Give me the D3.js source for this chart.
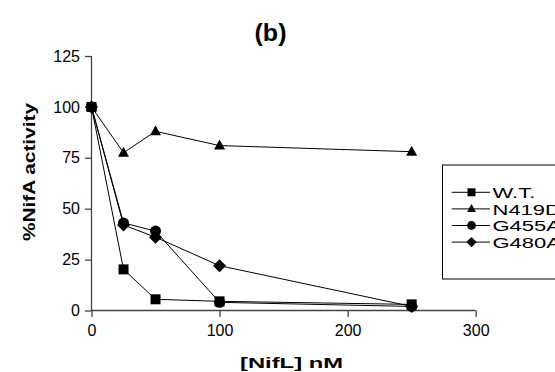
<!DOCTYPE html>
<html>
<head>
<meta charset="utf-8">
<script src="https://cdn.jsdelivr.net/npm/d3@7"></script>
<style>
  body { margin: 0; background: #fff; }
  svg { display: block; font-family: Arial, "Liberation Sans", sans-serif; }
</style>
</head>
<body>
<svg id="chart" width="555" height="372"></svg>
<script>
// --- Data ---
const seriesNames = ['W.T.', 'N419D', 'G455A', 'G480A'];
const symbols = ['square', 'triangle', 'circle', 'diamond'];
const wtX = [0, 25, 50, 100, 250];
const wtY = [100, 20.2, 5.5, 4.5, 3];
const n419dX = [0, 25, 50, 100, 250];
const n419dY = [100, 77.5, 88, 81, 78];
const g455aX = [0, 25, 50, 100, 250];
const g455aY = [100, 43, 39, 4, 2];
const g480aX = [0, 25, 50, 100, 250];
const g480aY = [100, 42, 36, 22, 2];
const xTicks = [0, 100, 200, 300];
const yTicks = [0, 25, 50, 75, 100, 125];

const series = [
    { name: seriesNames[0], sym: symbols[0], xs: wtX, ys: wtY },
    { name: seriesNames[1], sym: symbols[1], xs: n419dX, ys: n419dY },
    { name: seriesNames[2], sym: symbols[2], xs: g455aX, ys: g455aY },
    { name: seriesNames[3], sym: symbols[3], xs: g480aX, ys: g480aY },
];

const svg = d3.select('#chart');
const margin = { top: 56, left: 91.5, right: 475.7, bottom: 310.5 };

const x = d3.scaleLinear().domain([0, 300]).range([margin.left, margin.right]);
const y = d3.scaleLinear().domain([0, 125]).range([margin.bottom, margin.top]);

// marker drawing (k scales the size, legend uses smaller ones)
function drawMarker(g, sym, cx, cy, k = 1) {
    if (sym === 'square') {
        const h = 5 * k;
        g.append('rect').attr('x', cx - h).attr('y', cy - h).attr('width', 2 * h).attr('height', 2 * h).attr('fill', '#000');
    } else if (sym === 'triangle') {
        g.append('path').attr('d', `M${cx},${cy - 6 * k}L${cx + 5.5 * k},${cy + 4 * k}L${cx - 5.5 * k},${cy + 4 * k}Z`).attr('fill', '#000');
    } else if (sym === 'circle') {
        g.append('circle').attr('cx', cx).attr('cy', cy).attr('r', 5.5 * k).attr('fill', '#000');
    } else {
        const h = 6.5 * k;
        g.append('path').attr('d', `M${cx},${cy - h}L${cx + h},${cy}L${cx},${cy + h}L${cx - h},${cy}Z`).attr('fill', '#000');
    }
}

// --- Axes ---
const xAxis = svg.append('g')
    .attr('transform', `translate(0,${margin.bottom})`)
    .call(d3.axisBottom(x).tickValues(xTicks).tickSize(6.5).tickPadding(8).tickFormat(d3.format('d')));
const yAxis = svg.append('g')
    .attr('transform', `translate(${margin.left},0)`)
    .call(d3.axisLeft(y).tickValues(yTicks).tickSize(6.5).tickPadding(5).tickFormat(d3.format('d')));

[xAxis, yAxis].forEach(a => {
    a.select('.domain').attr('stroke', '#444').attr('stroke-width', 1.3);
    a.selectAll('.tick line').attr('stroke', '#444').attr('stroke-width', 1.3);
    a.selectAll('text').attr('fill', '#000').style('font-size', '16px').style('font-family', 'Arial, "Liberation Sans", sans-serif');
});
xAxis.select('.domain').attr('d', `M${margin.left},0H${margin.right}`);
yAxis.select('.domain').attr('d', `M0,${margin.top}V${margin.bottom}`);

// --- Lines & markers ---
const line = d3.line().x(d => x(d[0])).y(d => y(d[1]));
series.forEach(s => {
    const pts = s.xs.map((v, i) => [v, s.ys[i]]);
    svg.append('path')
        .attr('d', line(pts))
        .attr('fill', 'none')
        .attr('stroke', '#000')
        .attr('stroke-width', 1);
});
series.forEach(s => {
    const g = svg.append('g');
    s.xs.forEach((v, i) => drawMarker(g, s.sym, x(v), y(s.ys[i])));
});

// --- Titles (the original text is stretched wide, so textLength) ---
svg.append('text')
    .attr('x', 270.5).attr('y', 41)
    .attr('text-anchor', 'middle')
    .attr('textLength', 32).attr('lengthAdjust', 'spacingAndGlyphs')
    .style('font-size', '24px').style('font-weight', 'bold')
    .text('(b)');

svg.append('text')
    .attr('transform', `translate(35,172) rotate(-90)`)
    .attr('text-anchor', 'middle')
    .attr('textLength', 138).attr('lengthAdjust', 'spacingAndGlyphs')
    .style('font-size', '16px').style('font-weight', 'bold')
    .text('%NifA activity');

svg.append('text')
    .attr('x', 291.5).attr('y', 367.5)
    .attr('text-anchor', 'middle')
    .attr('textLength', 103).attr('lengthAdjust', 'spacingAndGlyphs')
    .style('font-size', '15.5px').style('font-weight', 'bold')
    .text('[NifL] nM');

// --- Legend ---
const legend = svg.append('g');
legend.append('rect')
    .attr('x', 442.5).attr('y', 165).attr('width', 130).attr('height', 114)
    .attr('fill', '#fff').attr('stroke', '#000').attr('stroke-width', 1);
series.forEach((s, i) => {
    const ly = 192.3 + i * 16.6;
    legend.append('line')
        .attr('x1', 451.7).attr('x2', 490).attr('y1', ly).attr('y2', ly)
        .attr('stroke', '#000').attr('stroke-width', 1);
    drawMarker(legend, s.sym, 471.5, ly, 0.8);
    legend.append('text')
        .attr('transform', `translate(492.5,${ly + 5.6}) scale(1.42,1)`)
        .style('font-size', '15.5px')
        .text(s.name);
});
</script>
</body>
</html>
